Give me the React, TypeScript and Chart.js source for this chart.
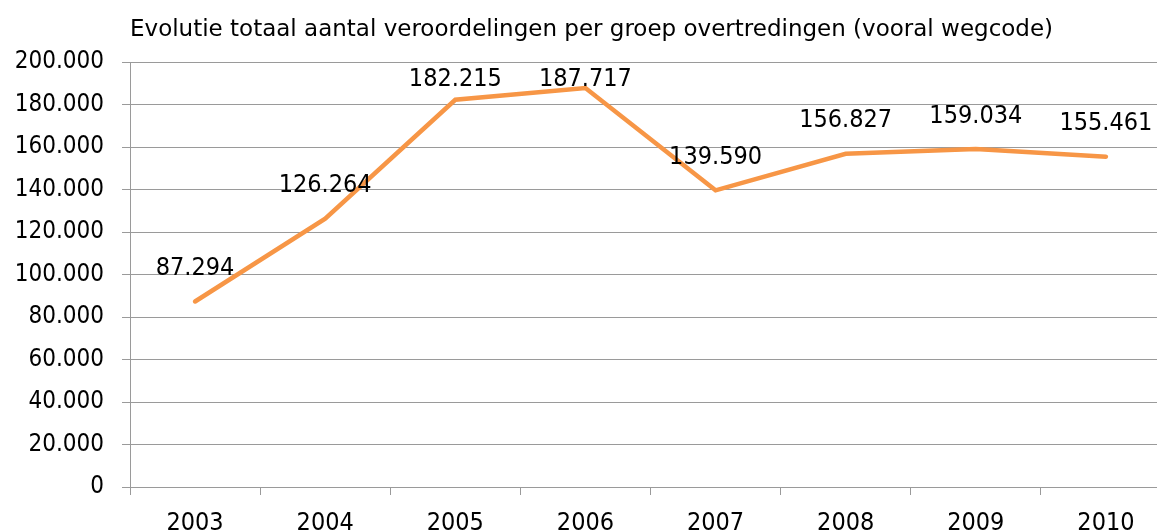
import React, { useEffect, useRef } from 'react';
import { Chart, registerables } from 'chart.js';

Chart.register(...registerables);

const years = ['2003', '2004', '2005', '2006', '2007', '2008', '2009', '2010'];
const convictions = [87294, 126264, 182215, 187717, 139590, 156827, 159034, 155461];
const yMin = 0;
const yMax = 200000;
const yStep = 20000;
const titleText = 'Evolutie totaal aantal veroordelingen per groep overtredingen (vooral wegcode)';

const FONT = '"DejaVu Sans Condensed", "DejaVu Sans", sans-serif';
const TITLE_FONT = '"DejaVu Sans", sans-serif';
const CANVAS_W = 1172;
const CANVAS_H = 560;
const GRID = '#9a9a9a';

const fmt = (v: number) => String(v).replace(/\B(?=(\d{3})+(?!\d))/g, '.');

const pointLabels = {
  id: 'pointLabels',
  afterDatasetsDraw(chart: any) {
    const { ctx, chartArea } = chart;
    const meta = chart.getDatasetMeta(0);
    ctx.save();
    ctx.font = `25px ${FONT}`;
    ctx.fillStyle = '#000';
    ctx.textAlign = 'center';
    ctx.textBaseline = 'middle';
    meta.data.forEach((pt: any, i: number) => {
      const y = Math.max(pt.y - 33, chartArea.top + 17);
      ctx.fillText(fmt(convictions[i]), pt.x, y);
    });
    ctx.restore();
  },
};

export default function App() {
  const ref = useRef<HTMLCanvasElement | null>(null);

  useEffect(() => {
    if (!ref.current) return;
    const chart = new Chart(ref.current, {
      type: 'line',
      data: {
        labels: years,
        datasets: [
          {
            data: convictions,
            borderColor: '#F79646',
            backgroundColor: '#F79646',
            borderWidth: 4.5,
            pointRadius: 0,
            tension: 0,
            borderCapStyle: 'round',
            borderJoinStyle: 'miter',
          },
        ],
      },
      options: {
        responsive: false,
        animation: false,
        devicePixelRatio: 1,
        layout: { padding: { left: 0, right: 1, top: 0, bottom: 0 } },
        plugins: {
          legend: { display: false },
          tooltip: { enabled: false },
          title: {
            display: true,
            text: titleText,
            align: 'start',
            fullSize: false,
            color: '#000',
            font: { family: TITLE_FONT, size: 23, weight: 'normal', lineHeight: 1.2 },
            padding: { top: 16, bottom: 18.4 },
          },
        },
        scales: {
          x: {
            offset: true,
            grid: {
              offset: true,
              drawOnChartArea: false,
              drawTicks: true,
              tickLength: 8,
              color: GRID,
            },
            border: { color: GRID },
            ticks: {
              color: '#000',
              font: { family: FONT, size: 25 },
              padding: 13,
              maxRotation: 0,
              autoSkip: false,
            },
            afterFit(scale: any) {
              scale.height = CANVAS_H - 487;
            },
          },
          y: {
            min: yMin,
            max: yMax,
            ticks: {
              stepSize: yStep,
              callback: (v: any) => fmt(Number(v)),
              color: '#000',
              font: { family: FONT, size: 24 },
              padding: 18,
            },
            grid: { color: GRID, tickLength: 8 },
            border: { color: GRID },
            afterFit(scale: any) {
              scale.width = 130;
            },
          },
        },
      },
      plugins: [pointLabels],
    });
    return () => chart.destroy();
  }, []);

  return (
    <div
      style={{
        position: 'fixed',
        left: 0,
        top: 0,
        width: 1157,
        height: 531,
        overflow: 'hidden',
        background: '#fff',
      }}
    >
      <canvas ref={ref} width={CANVAS_W} height={CANVAS_H} style={{ display: 'block' }} />
    </div>
  );
}
